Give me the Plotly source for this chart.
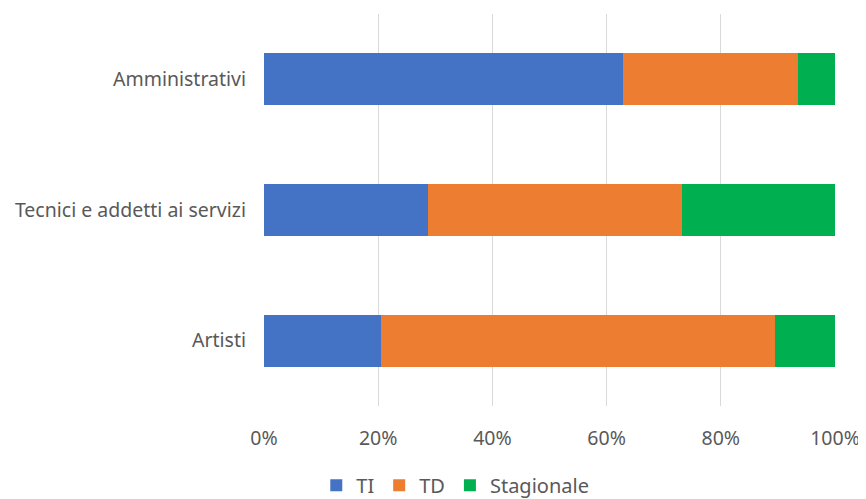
import plotly.graph_objects as go

categories = ["Artisti", "Tecnici e addetti ai servizi", "Amministrativi"]
ti = [0.205, 0.288, 0.629]
td = [0.690, 0.444, 0.306]
stagionale = [0.105, 0.268, 0.065]

SERIES = [
    ("TI", ti, "#4472c4"),
    ("TD", td, "#ed7d31"),
    ("Stagionale", stagionale, "#00b050"),
]

fig = go.Figure()
for name, values, color in SERIES:
    fig.add_trace(
        go.Bar(
            y=categories,
            x=values,
            name=name,
            orientation="h",
            marker=dict(color=color, line=dict(width=0)),
        )
    )

# the page body has an 8px margin, so the figure is sized to fit the window
font_family = "Noto Sans, sans-serif"
fig.update_layout(
    barmode="stack",
    bargap=0.6,
    width=858,
    height=491,
    margin=dict(l=256, r=31, t=6, b=93),
    paper_bgcolor="white",
    plot_bgcolor="white",
    font=dict(family=font_family, size=19.5, color="#595959"),
    showlegend=True,
    legend=dict(
        orientation="h",
        x=0.335,
        xanchor="center",
        yref="container",
        y=0.028,
        yanchor="middle",
        font=dict(size=20, color="#595959"),
        traceorder="normal",
        itemwidth=30,
    ),
    xaxis=dict(
        range=[0, 1],
        tickvals=[0, 0.2, 0.4, 0.6, 0.8, 1.0],
        tickformat=".0%",
        showgrid=True,
        gridcolor="#d9d9d9",
        gridwidth=1,
        zeroline=False,
        showline=False,
        ticks="outside",
        ticklen=15,
        tickcolor="rgba(0,0,0,0)",
        automargin=False,
    ),
    yaxis=dict(
        showgrid=False,
        showline=False,
        ticks="",
        ticklabelstandoff=17,
        automargin=False,
    ),
)

fig.write_html("out.html")
